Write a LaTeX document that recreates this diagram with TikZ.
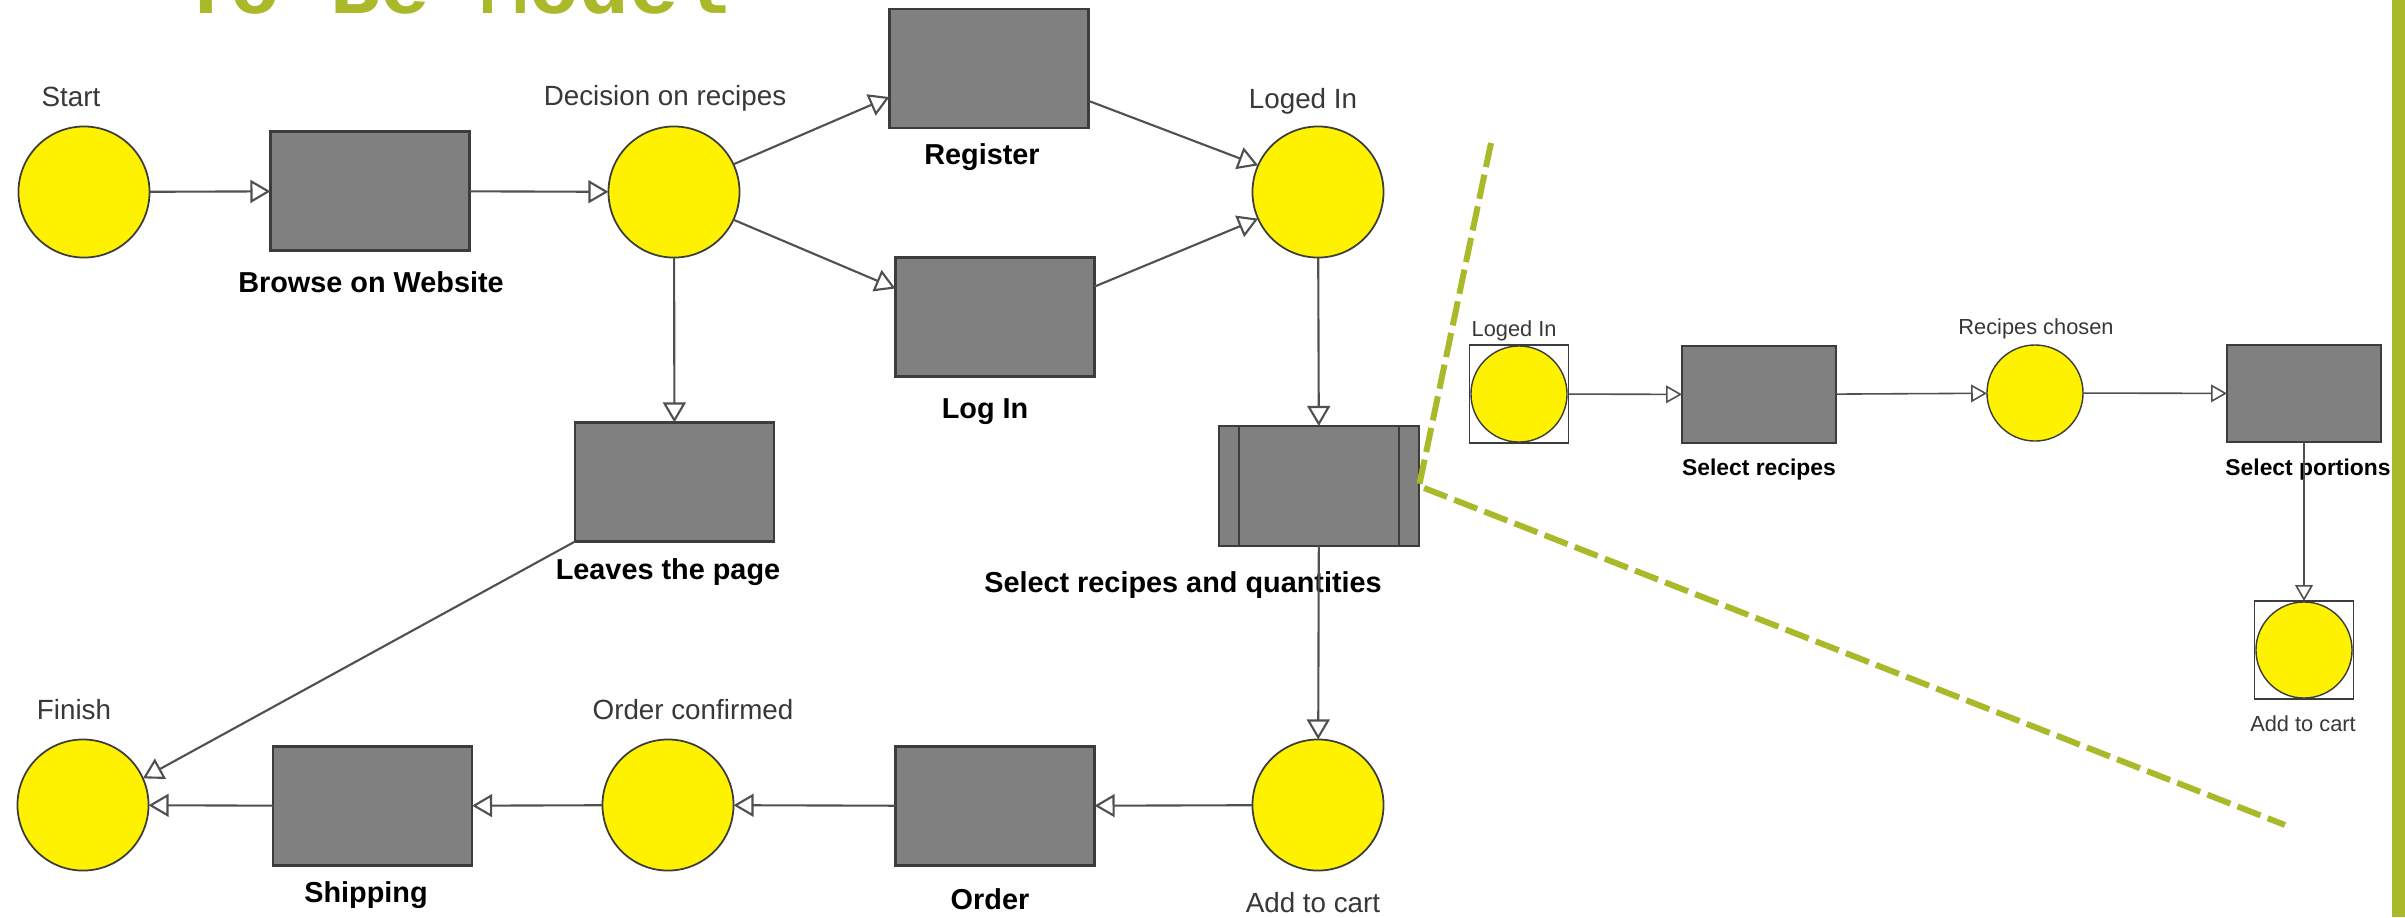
\documentclass[tikz,border=0pt]{standalone}
\usepackage{fontspec}
\setmainfont{Liberation Sans}
\newfontfamily\titlefont{Liberation Mono}
\usetikzlibrary{arrows.meta}
\definecolor{leaf}{RGB}{169,185,42}
\definecolor{boxgray}{RGB}{128,128,128}
\definecolor{edgegray}{RGB}{60,60,60}
\definecolor{wire}{RGB}{80,80,80}
\tikzset{
  state/.style={circle, draw=edgegray, line width=0.5pt, fill=yellow,
    minimum size=1.31cm, inner sep=0pt, outer sep=0pt},
  smallstate/.style={state, minimum size=0.96cm, line width=0.4pt},
  task/.style={rectangle, draw=edgegray, line width=0.8pt, fill=boxgray,
    minimum width=1.99cm, minimum height=1.19cm, inner sep=0pt, outer sep=0pt},
  smalltask/.style={task, minimum width=1.54cm, minimum height=0.97cm, line width=0.6pt},
  frame/.style={rectangle, draw=edgegray, line width=0.4pt, minimum width=0.99cm,
    minimum height=0.98cm, inner sep=0pt, outer sep=0pt},
  flow/.style={draw=wire, line width=0.6pt, -{Triangle[length=5.7pt, width=6.5pt, fill=white]}},
  smallflow/.style={draw=wire, line width=0.45pt, -{Triangle[length=4.5pt, width=5pt, fill=white]}},
  lbl/.style={font=\fontsize{7.9}{9}\selectfont, text=black!78, inner sep=0pt, anchor=mid},
  blbl/.style={font=\fontsize{8.2}{9}\selectfont\bfseries, text=black, inner sep=0pt, anchor=mid},
  slbl/.style={font=\fontsize{6.2}{7}\selectfont, text=black!78, inner sep=0pt, anchor=mid},
  sblbl/.style={font=\fontsize{6.5}{7}\selectfont\bfseries, text=black, inner sep=0pt, anchor=mid},
  cut/.style={draw=leaf, line width=1.7pt, dash pattern=on 7pt off 2.2pt},
}
\begin{document}
\begin{tikzpicture}[x=0.01cm, y=-0.01cm]
\useasboundingbox (0,0) rectangle (2405,917);
\clip (0,0) rectangle (2405,917);
\fill[white] (0,0) rectangle (2405,917);

% heading, running off the top edge of the page
\node[font=\titlefont\bfseries\fontsize{23.6}{28}\selectfont, text=leaf, anchor=base, inner sep=0pt]
  (title) at (455,13) {To Be Model};

% side bar
\fill[leaf] (2392,0) rectangle (2405,917);

% ---- main process ----
\node[state] (start) at (84,192) {};
\node[task] (browse) at (370,191) {};
\node[state] (dec) at (674,192) {};
\node[task] (reg) at (989,68.5) {};
\node[task] (login) at (995,317) {};
\node[state] (loged) at (1318,192) {};
\node[task] (leaves) at (674.5,482) {};
\node[task, minimum width=2.0cm, minimum height=1.2cm] (sel) at (1319,486) {};
\draw[edgegray, line width=0.8pt] ([xshift=0.2cm]sel.north west) -- ([xshift=0.2cm]sel.south west);
\draw[edgegray, line width=0.8pt] ([xshift=-0.2cm]sel.north east) -- ([xshift=-0.2cm]sel.south east);
\node[state] (cart) at (1318,805) {};
\node[task] (order) at (995,806) {};
\node[state] (conf) at (668,805) {};
\node[task] (ship) at (372.5,806) {};
\node[state] (finish) at (83,805) {};

% labels
\node[lbl] (startl) at (71,97) {Start};
\node[lbl] (decl) at (665,96) {Decision on recipes};
\node[lbl] (logedl) at (1303,99) {Loged In};
\node[lbl] (finishl) at (74,710) {Finish};
\node[lbl] (confl) at (693,710) {Order confirmed};
\node[lbl] (cartl) at (1313,903) {Add to cart};
\node[blbl] (browsel) at (371,283) {Browse on Website};
\node[blbl] (regl) at (982,155) {Register};
\node[blbl] (loginl) at (985,409) {Log In};
\node[blbl] (leavesl) at (668,570) {Leaves the page};
\node[blbl] (sell) at (1183,583) {Select recipes and quantities};
\node[blbl] (shipl) at (366,893) {Shipping};
\node[blbl] (orderl) at (990,900) {Order};

% connectors
\draw[flow] (start) -- (browse);
\draw[flow] (browse) -- (dec);
\draw[flow] (dec.25) -- (reg.196);
\draw[flow] (dec.-25) -- (login.164);
\draw[flow] (reg.-18) -- (loged.156);
\draw[flow] (login.17) -- (loged.204);
\draw[flow] (dec) -- (leaves);
\draw[flow] (loged) -- (sel);
\draw[flow] (sel) -- (cart);
\draw[flow] (cart) -- (order);
\draw[flow] (order) -- (conf);
\draw[flow] (conf) -- (ship);
\draw[flow] (ship) -- (finish);
\draw[flow] (leaves.south west) -- (finish.24);

% ---- detail of the selection step ----
\node[frame] (logedbox) at (1519,394) {};
\node[smallstate] (loged2) at (1519,394) {};
\node[smalltask] (selrec) at (1759,394.5) {};
\node[smallstate] (chosen) at (2035,393) {};
\node[smalltask] (selpor) at (2304,393.5) {};
\node[frame] (cartbox) at (2304,650) {};
\node[smallstate] (cart2) at (2304,650) {};

\node[slbl, anchor=mid west] (loged2l) at (1471,327) {Loged In};
\node[slbl] (chosenl) at (2036,325) {Recipes chosen};
\node[sblbl] (selrecl) at (1759,466) {Select recipes};
\node[sblbl] (selporl) at (2308,466) {Select portions};
\node[slbl] (cart2l) at (2303,722) {Add to cart};

\draw[smallflow] (logedbox) -- (selrec);
\draw[smallflow] (selrec) -- (chosen);
\draw[smallflow] (chosen) -- (selpor);
\draw[smallflow] (selpor) -- (cartbox);

% zoom wedge from the main step to its detail
\coordinate (cuttop) at (1491,143);
\coordinate (cutend) at (2285,825);
\draw[cut] (cuttop) -- (sel.east) -- (cutend);
\end{tikzpicture}
\end{document}
